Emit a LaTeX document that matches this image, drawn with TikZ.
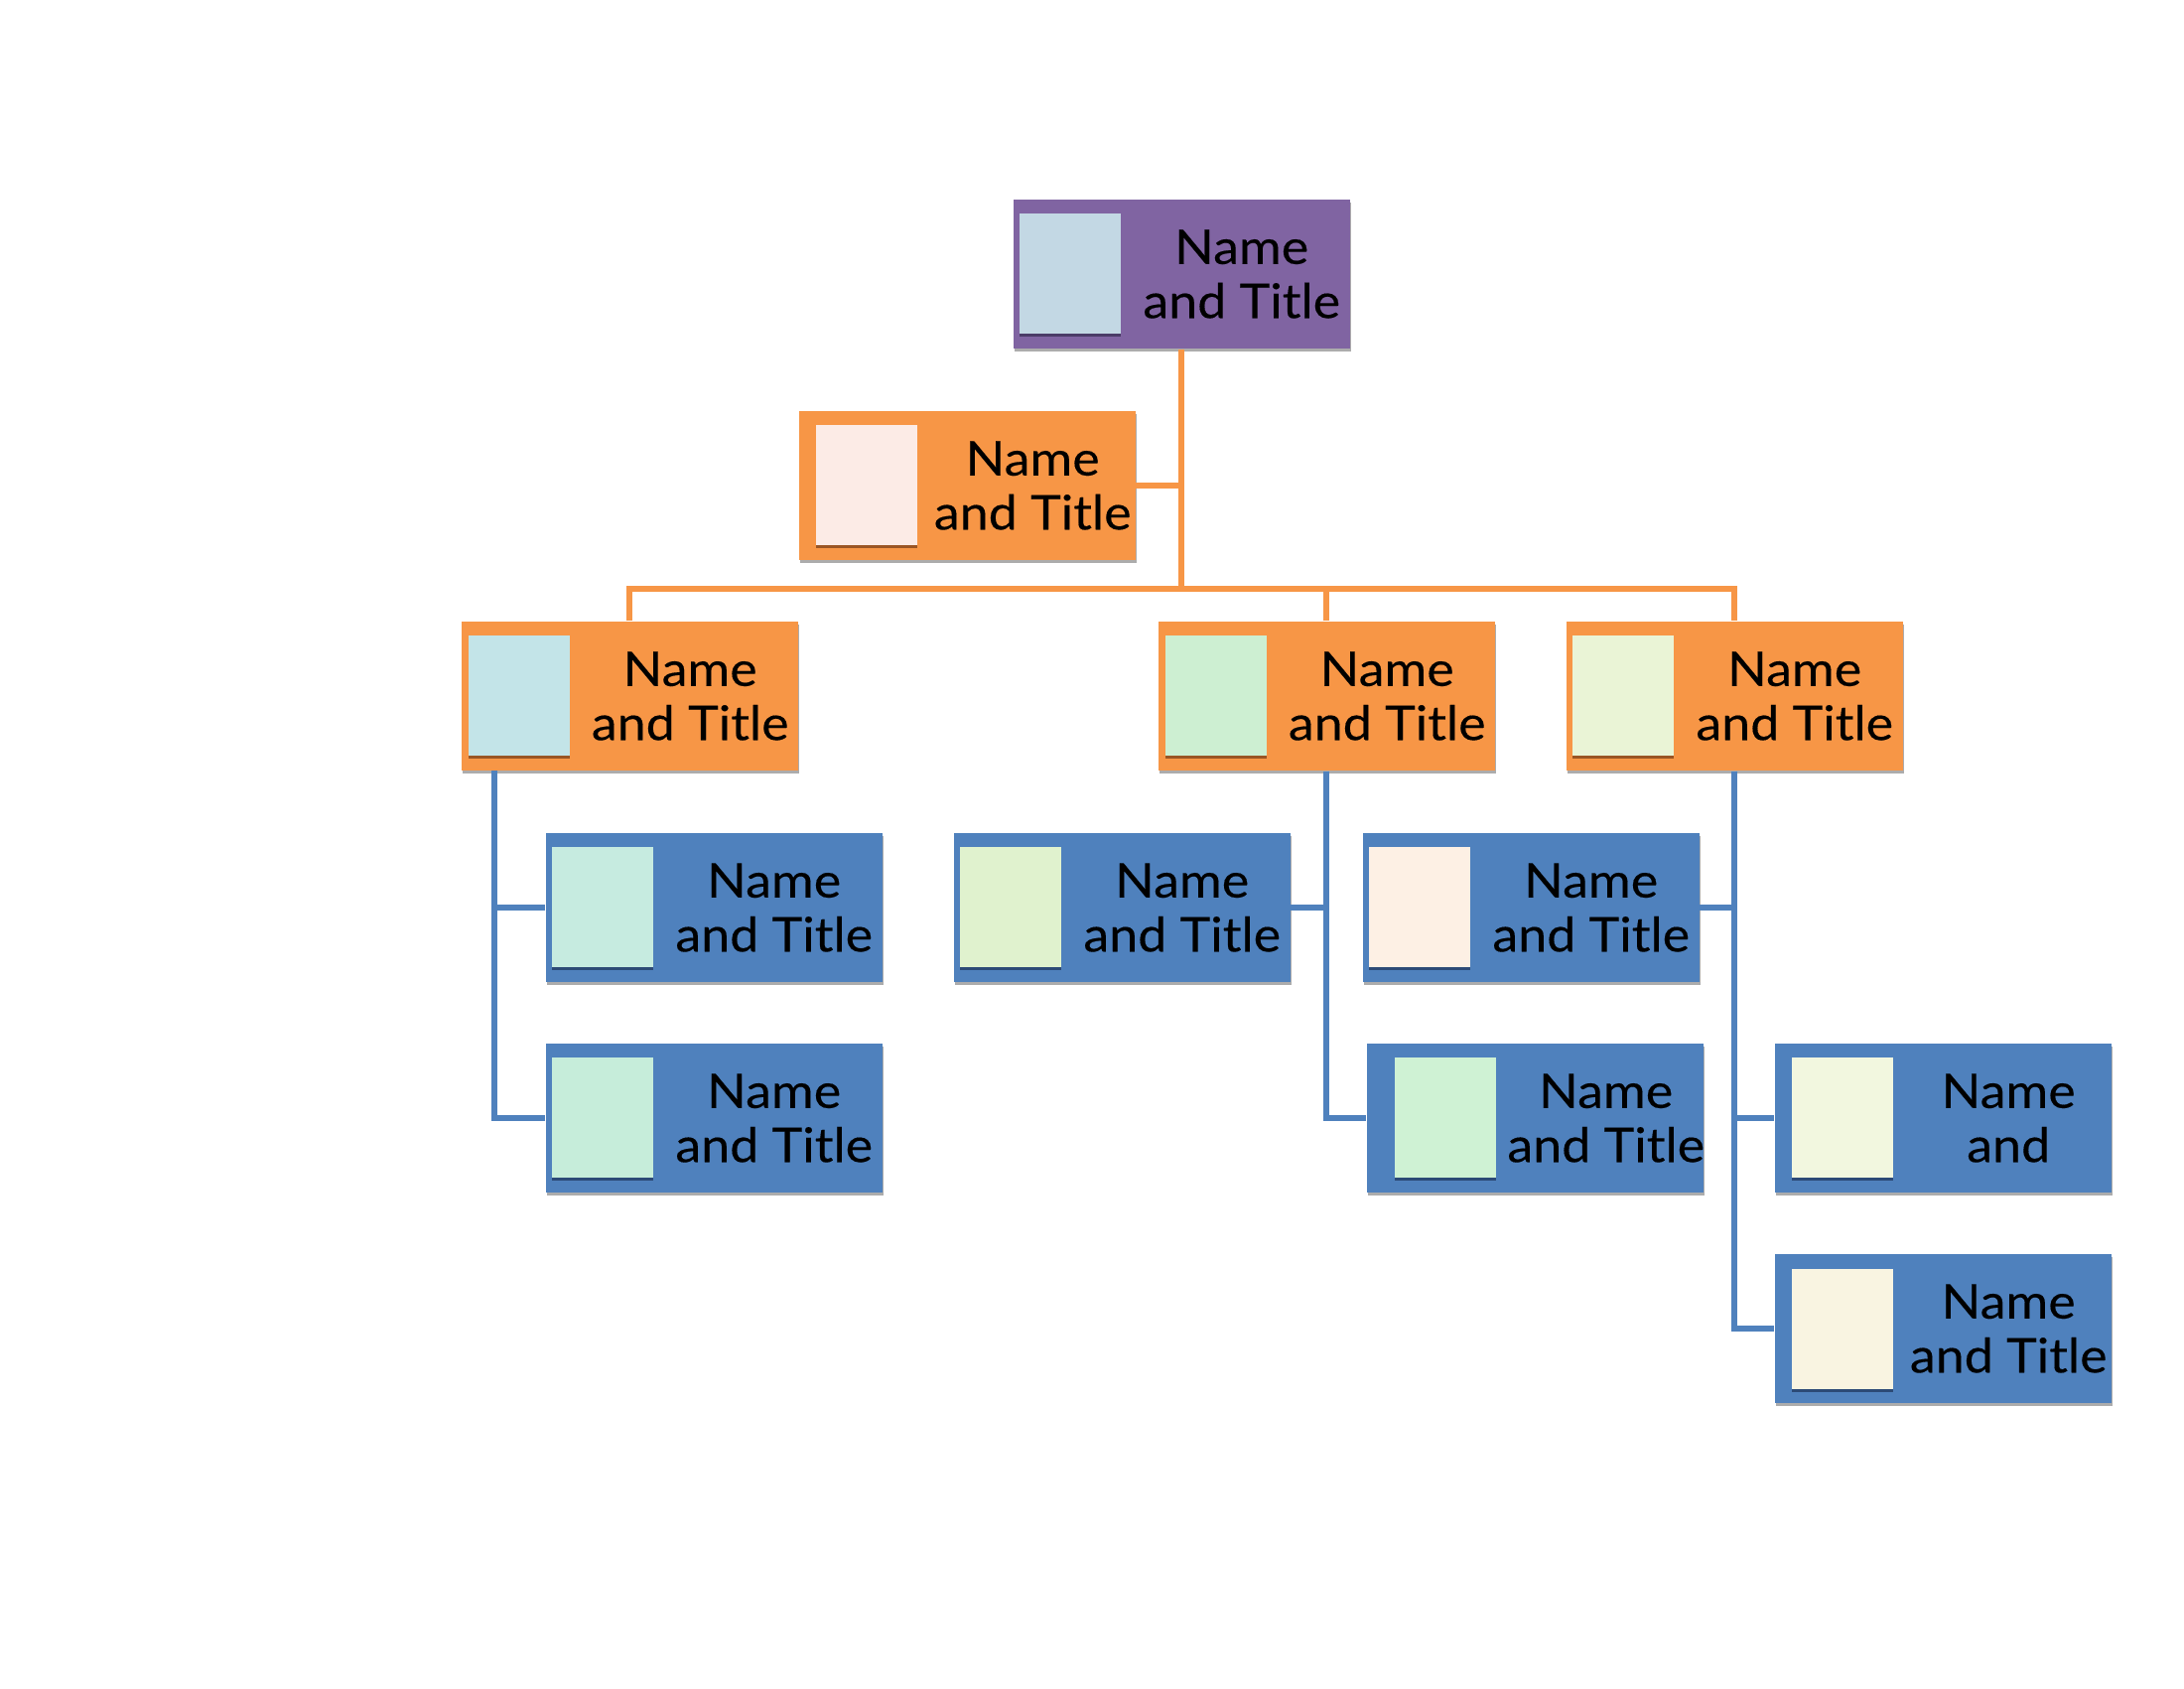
\documentclass[tikz,border=0pt]{standalone}
\usepackage{fontspec}
\setmainfont{Lato}[FakeStretch=1.08, FakeBold=0.25]
\usepackage{tikz}
\usetikzlibrary{positioning, calc, shadows}
\usepackage{xcolor}
\definecolor{boxpurple}{HTML}{8064A2}
\definecolor{boxorange}{HTML}{F79646}
\definecolor{boxblue}{HTML}{4F81BD}
\definecolor{edgepurple}{HTML}{4B3C68}
\definecolor{edgeorange}{HTML}{9A5524}
\definecolor{edgeblue}{HTML}{2C4A76}
\definecolor{picsteel}{HTML}{C3D8E4}
\definecolor{picrose}{HTML}{FCEBE6}
\definecolor{picaqua}{HTML}{C3E4E8}
\definecolor{picmint}{HTML}{CDEFD2}
\definecolor{piclime}{HTML}{EAF4D6}
\definecolor{picsea}{HTML}{C6EBE0}
\definecolor{picjade}{HTML}{C6EDDA}
\definecolor{picpear}{HTML}{E0F2CE}
\definecolor{picpeach}{HTML}{FDF0E4}
\definecolor{picleaf}{HTML}{CFF2D4}
\definecolor{piccream}{HTML}{F2F7DF}
\definecolor{picivory}{HTML}{F9F4E1}
\tikzset{
    orgbox/.style={
        rectangle,
        inner sep=0pt,
        minimum width=3.39cm,
        minimum height=1.50cm,
        drop shadow={shadow xshift=0.01cm, shadow yshift=-0.03cm, fill=gray!65, opacity=1}
    },
    purplebox/.style={orgbox, fill=boxpurple},
    orangebox/.style={orgbox, fill=boxorange},
    bluebox/.style={orgbox, fill=boxblue},
    photo/.style={
        rectangle,
        inner sep=0pt,
        minimum width=1.02cm,
        minimum height=1.21cm,
        drop shadow={shadow xshift=0cm, shadow yshift=-0.03cm, fill=#1, opacity=1}
    },
    nametext/.style={
        align=center,
        inner sep=0pt,
        xshift=0.06cm,
        font=\fontsize{13.7}{15.5}\selectfont
    },
    orangeedge/.style={
        line width=1.5pt,
        boxorange
    },
    blueedge/.style={
        line width=1.6pt,
        boxblue
    }
}

\begin{document}
\begin{tikzpicture}[scale=1]
\useasboundingbox (0,0) rectangle (22,17);

%---------------- Top ----------------

\node[purplebox] (top) at (11.90,14.24) {};
\node[photo=edgepurple, fill=picsteel, right=0.06cm of top.west] (topp) {};
\node[nametext] at ($(topp.east)!0.5!(top.east)$) {Name\\and Title};

\node[orangebox] (asst) at (9.74,12.11) {};
\node[photo=edgeorange, fill=picrose, right=0.17cm of asst.west] (asstp) {};
\node[nametext] at ($(asstp.east)!0.5!(asst.east)$) {Name\\and Title};

%---------------- Second level ----------------

\node[orangebox] (a) at (6.34,9.99) {};
\node[photo=edgeorange, fill=picaqua, right=0.07cm of a.west] (ap) {};
\node[nametext] at ($(ap.east)!0.5!(a.east)$) {Name\\and Title};

\node[orangebox] (b) at (13.36,9.99) {};
\node[photo=edgeorange, fill=picmint, right=0.07cm of b.west] (bp) {};
\node[nametext] at ($(bp.east)!0.5!(b.east)$) {Name\\and Title};

\node[orangebox] (c) at (17.47,9.99) {};
\node[photo=edgeorange, fill=piclime, right=0.06cm of c.west] (cp) {};
\node[nametext] at ($(cp.east)!0.5!(c.east)$) {Name\\and Title};

\coordinate (bar) at (11.90,11.07);

\draw[orangeedge] (top.south) -- (bar);
\draw[orangeedge] (asst.east) -- (asst.east -| bar);
\draw[orangeedge] (a.north) |- (bar) -| (c.north);
\draw[orangeedge] (b.north) -- (b.north |- bar);

%---------------- Third level ----------------

\node[bluebox] (a1) at (7.19,7.86) {};
\node[photo=edgeblue, fill=picsea, right=0.06cm of a1.west] (a1p) {};
\node[nametext] at ($(a1p.east)!0.5!(a1.east)$) {Name\\and Title};

\node[bluebox] (a2) at (7.19,5.74) {};
\node[photo=edgeblue, fill=picjade, right=0.06cm of a2.west] (a2p) {};
\node[nametext] at ($(a2p.east)!0.5!(a2.east)$) {Name\\and Title};

\node[bluebox] (b1) at (11.30,7.86) {};
\node[photo=edgeblue, fill=picpear, right=0.06cm of b1.west] (b1p) {};
\node[nametext] at ($(b1p.east)!0.5!(b1.east)$) {Name\\and Title};

\node[bluebox] (b2) at (15.46,5.74) {};
\node[photo=edgeblue, fill=picleaf, right=0.28cm of b2.west] (b2p) {};
\node[nametext] at ($(b2p.east)!0.5!(b2.east)$) {Name\\and Title};

\node[bluebox] (c1) at (15.42,7.86) {};
\node[photo=edgeblue, fill=picpeach, right=0.06cm of c1.west] (c1p) {};
\node[nametext] at ($(c1p.east)!0.5!(c1.east)$) {Name\\and Title};

\node[bluebox] (c2) at (19.57,5.74) {};
\node[photo=edgeblue, fill=piccream, right=0.17cm of c2.west] (c2p) {};
\node[nametext] at ($(c2p.east)!0.5!(c2.east)$) {Name\\and};

\node[bluebox] (c3) at (19.57,3.62) {};
\node[photo=edgeblue, fill=picivory, right=0.17cm of c3.west] (c3p) {};
\node[nametext] at ($(c3p.east)!0.5!(c3.east)$) {Name\\and Title};

\coordinate (atrunk) at (4.98,9.24);

\draw[blueedge] (atrunk) |- (a2.west);
\draw[blueedge] (a1.west) -- (a1.west -| atrunk);
\draw[blueedge] (b.south) |- (b2.west);
\draw[blueedge] (b1.east) -- (b1.east -| b.south);
\draw[blueedge] (c.south) |- (c3.west);
\draw[blueedge] (c1.east) -- (c1.east -| c.south);
\draw[blueedge] (c2.west) -- (c2.west -| c.south);

\end{tikzpicture}
\end{document}
